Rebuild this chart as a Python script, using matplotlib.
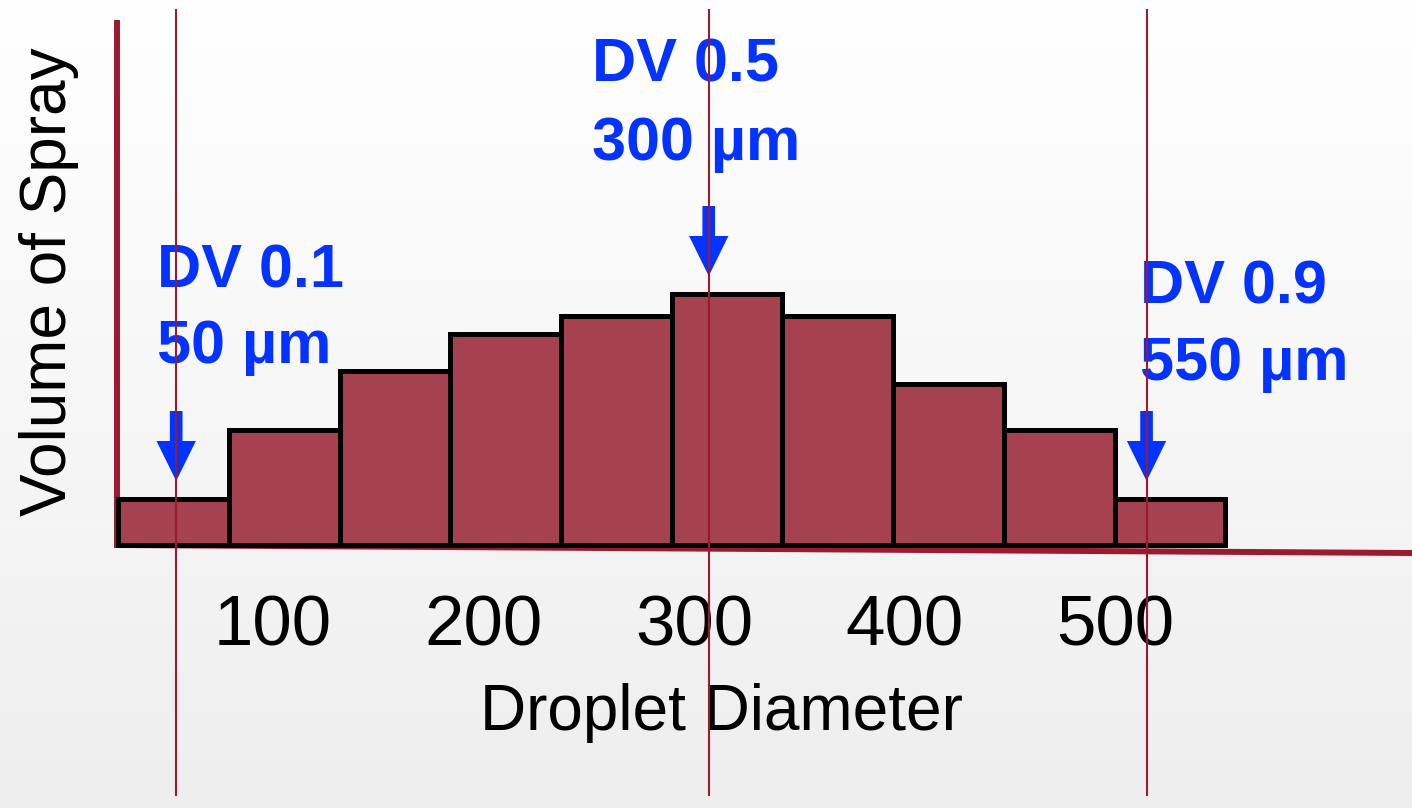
import numpy as np
import matplotlib
matplotlib.use("Agg")
import matplotlib.pyplot as plt
from matplotlib.colors import LinearSegmentedColormap

plt.rcParams['font.family'] = ['Liberation Sans', 'DejaVu Sans']

# droplet size bins (µm) and relative spray volume
bin_left = [26.4, 79.0, 131.6, 184.2, 236.8, 289.4, 342.0, 394.6, 447.2, 499.8]
bin_width = 52.6
volume = [4.6, 11.5, 17.4, 21.1, 22.9, 25.1, 22.9, 16.1, 11.5, 4.6]

tick_values = [100, 200, 300, 400, 500]

# DV markers: position on the axis (as drawn), caption lines
dv_pos = [54, 307, 515]
dv_names = ["DV 0.1", "DV 0.5", "DV 0.9"]
dv_sizes = ["50 µm", "300 µm", "550 µm"]

# label anchors (left x, baseline of first line, baseline of second line)
label_x = [44.9, 251.5, 511.9]
label_y1 = [25.8, 46.3, 24.2]
label_y2 = [18.2, 38.5, 16.5]

BAR_RED = '#A64150'
AXIS_RED = '#9A1A2F'
BLUE = '#0433FF'

fig = plt.figure(figsize=(14.12, 8.08), dpi=100)
ax = fig.add_axes([0, 0, 1, 1])
xlim = (-29.7, 641.1)
ylim = (-26.3, 54.5)
ax.set_xlim(*xlim)
ax.set_ylim(*ylim)
ax.axis('off')

# soft white -> light grey background (white at the top)
grad = np.linspace(0, 1, 256).reshape(-1, 1)
cmap = LinearSegmentedColormap.from_list('bg', ['#FFFFFF', '#EEEEEE'])
ax.imshow(grad, extent=[xlim[0], xlim[1], ylim[0], ylim[1]], origin='upper',
          aspect='auto', cmap=cmap, zorder=0)

# axis lines
ax.plot([25.9, 25.9], [-0.3, 52.5], color=AXIS_RED, lw=4.3,
        solid_capstyle='butt', zorder=1)
ax.plot([25.9, xlim[1]], [0.0, -0.8], color=AXIS_RED, lw=4.3,
        solid_capstyle='butt', zorder=1)

# histogram bars
ax.bar(bin_left, volume, width=bin_width, align='edge', color=BAR_RED,
       edgecolor='black', linewidth=3.6, zorder=2)

# tick labels and axis titles
for t in tick_values:
    ax.text(t, -10.0, str(t), ha='center', va='baseline', fontsize=51,
            color='black', zorder=3)
ax.text(198.4, -18.5, "Droplet Diameter", ha='left', va='baseline',
        fontsize=46, color='black', zorder=3)
ax.text(-6.4, 26.3, "Volume of Spray", rotation=90, ha='center',
        va='center', fontsize=46, color='black', zorder=3)

# DV arrows and captions
edges = np.array(bin_left + [bin_left[-1] + bin_width])
for i, x in enumerate(dv_pos):
    k = min(max(np.searchsorted(edges, x) - 1, 0), len(volume) - 1)
    tip = volume[k] + 1.8
    ax.arrow(x, tip + 7.0, 0, -7.0, width=6.0, head_width=18.7,
             head_length=4.0, length_includes_head=True, color=BLUE,
             lw=0, zorder=4)
    ax.text(label_x[i], label_y1[i], dv_names[i], ha='left', va='baseline',
            fontsize=44, fontweight='bold', color=BLUE, zorder=4)
    ax.text(label_x[i], label_y2[i], dv_sizes[i], ha='left', va='baseline',
            fontsize=44, fontweight='bold', color=BLUE, zorder=4)

# thin red marker lines on top
for x in dv_pos:
    ax.plot([x, x], [-25.0, 53.5], color=AXIS_RED, lw=1.5, zorder=5)

fig.savefig("out.png", dpi=100)
